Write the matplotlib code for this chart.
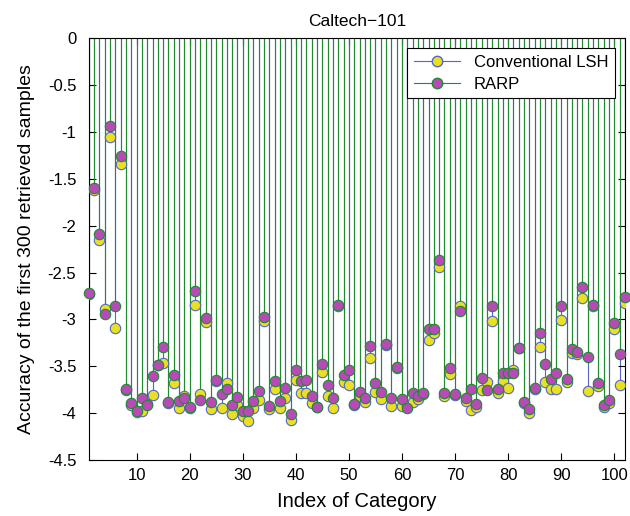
import numpy as np
import matplotlib
matplotlib.use("Agg")
import matplotlib.pyplot as plt
from matplotlib.lines import Line2D

plt.rcParams["font.family"] = ["Liberation Sans", "DejaVu Sans"]

# category index 1..102
categories = np.arange(1, 103)

# Conventional LSH (yellow markers, blue stems)
lsh = [-2.73, -1.62, -2.15, -2.89, -1.05, -3.09, -1.34, -3.75, -3.91, -3.99,
       -3.98, -3.90, -3.81, -3.49, -3.46, -3.89, -3.68, -3.94, -3.82, -3.95,
       -2.85, -3.80, -3.03, -3.96, -3.66, -3.95, -3.68, -4.01, -3.91, -4.03,
       -4.08, -3.95, -3.86, -3.02, -3.96, -3.74, -3.94, -3.84, -4.07, -3.65,
       -3.78, -3.79, -3.89, -3.93, -3.56, -3.82, -3.94, -2.86, -3.67, -3.70,
       -3.91, -3.82, -3.88, -3.41, -3.77, -3.85, -3.27, -3.92, -3.52, -3.92,
       -3.92, -3.88, -3.85, -3.80, -3.22, -3.15, -2.44, -3.82, -3.58, -3.81,
       -2.86, -3.87, -3.97, -3.93, -3.75, -3.67, -3.02, -3.78, -3.66, -3.73,
       -3.54, -3.31, -3.89, -4.00, -3.74, -3.29, -3.67, -3.74, -3.74, -3.01,
       -3.67, -3.36, -3.37, -2.77, -3.76, -2.86, -3.71, -3.93, -3.89, -3.10,
       -3.70, -2.83]

# RARP (magenta markers, green stems)
rarp = [-2.72, -1.60, -2.09, -2.94, -0.94, -2.86, -1.26, -3.74, -3.89, -3.98,
        -3.84, -3.91, -3.60, -3.49, -3.29, -3.88, -3.59, -3.87, -3.84, -3.93,
        -2.70, -3.86, -2.99, -3.88, -3.65, -3.80, -3.74, -3.91, -3.83, -3.98,
        -3.98, -3.87, -3.76, -2.97, -3.92, -3.66, -3.87, -3.73, -4.01, -3.54,
        -3.66, -3.65, -3.82, -3.93, -3.48, -3.70, -3.84, -2.85, -3.59, -3.54,
        -3.90, -3.77, -3.84, -3.28, -3.68, -3.77, -3.26, -3.84, -3.51, -3.85,
        -3.95, -3.79, -3.82, -3.79, -3.10, -3.10, -2.37, -3.78, -3.52, -3.80,
        -2.91, -3.84, -3.74, -3.90, -3.62, -3.75, -2.86, -3.74, -3.57, -3.57,
        -3.57, -3.30, -3.88, -3.96, -3.73, -3.14, -3.48, -3.64, -3.57, -2.86,
        -3.64, -3.32, -3.35, -2.65, -3.40, -2.85, -3.68, -3.91, -3.86, -3.04,
        -3.37, -2.76]

blue = "#5566c8"
yellow = "#e8e020"
green = "#1f8a2e"
magenta = "#b84ab8"

fig = plt.figure(figsize=(6.3, 5.16), dpi=100)
ax = fig.add_axes([0.141, 0.1085, 0.851, 0.8175])

# stems: LSH first, RARP drawn over it
ax.vlines(categories, 0, lsh, colors=blue, linewidth=0.8, zorder=1)
ax.vlines(categories, 0, rarp, colors=green, linewidth=0.8, zorder=2)
ax.plot(categories, lsh, linestyle="None", marker="o", markersize=7.5,
        markerfacecolor=yellow, markeredgecolor=blue, markeredgewidth=0.8, zorder=3)
ax.plot(categories, rarp, linestyle="None", marker="o", markersize=7.5,
        markerfacecolor=magenta, markeredgecolor=green, markeredgewidth=0.8, zorder=4,
        clip_on=False)

ax.set_xlim(1, 102)
ax.set_ylim(-4.5, 0)
ax.set_xticks(np.arange(10, 101, 10))
ax.set_yticks(np.arange(-4.5, 0.01, 0.5))
ax.set_yticklabels(["-4.5", "-4", "-3.5", "-3", "-2.5", "-2", "-1.5", "-1", "-0.5", "0"])
ax.tick_params(direction="in", top=True, right=True, labelsize=12, length=5)
ax.tick_params(axis="x", pad=6)
ax.tick_params(axis="y", pad=9)

ax.set_title("Caltech\u2212101", fontsize=12.5, pad=9)
ax.set_xlabel("Index of Category", fontsize=14.5, labelpad=6)
ax.set_ylabel("Accuracy of the first 300 retrieved samples", fontsize=14, labelpad=9)

handles = [
    Line2D([0], [0], color=blue, linewidth=0.8, marker="o", markersize=7.5,
           markerfacecolor=yellow, markeredgecolor=blue),
    Line2D([0], [0], color=green, linewidth=0.8, marker="o", markersize=7.5,
           markerfacecolor=magenta, markeredgecolor=green),
]
leg = ax.legend(handles, ["Conventional LSH", "RARP"], loc="upper right",
                fontsize=12, fancybox=False, framealpha=1, edgecolor="black",
                borderaxespad=0.6, handlelength=2.8, borderpad=0.4, labelspacing=0.4)
leg.get_frame().set_linewidth(0.8)
leg.set_zorder(10)

plt.savefig("out.png", dpi=100)
